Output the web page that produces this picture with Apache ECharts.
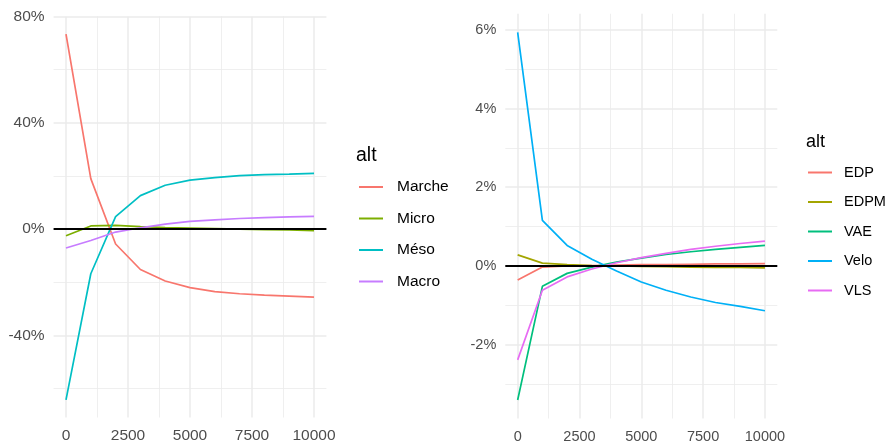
<!DOCTYPE html>
<html>
<head>
<meta charset="utf-8">
<script src="https://cdn.jsdelivr.net/npm/echarts@6/dist/echarts.min.js"></script>
<style>html,body{margin:0;padding:0;background:#fff;}#c{width:888px;height:444px;}</style>
</head>
<body>
<div id="c"></div>
<script>
// ---- data ----
const xValues = [0, 1000, 2000, 3000, 4000, 5000, 6000, 7000, 8000, 9000, 10000];

const leftNames = ['Marche', 'Micro', 'Méso', 'Macro'];
const marche = [73.3, 19.0, -5.6, -15.2, -19.5, -22.0, -23.5, -24.3, -24.8, -25.2, -25.6];
const micro  = [-2.5, 1.2, 1.4, 0.9, 0.6, 0.4, 0.2, 0.0, -0.2, -0.3, -0.6];
const meso   = [-64.2, -16.8, 4.7, 12.6, 16.5, 18.4, 19.4, 20.1, 20.5, 20.7, 21.0];
const macro  = [-7.1, -4.3, -1.1, 0.5, 1.9, 2.9, 3.5, 4.0, 4.3, 4.6, 4.8];

const rightNames = ['EDP', 'EDPM', 'VAE', 'Velo', 'VLS'];
const edp  = [-0.36, -0.03, 0.0, 0.01, 0.02, 0.03, 0.03, 0.04, 0.05, 0.05, 0.06];
const edpm = [0.28, 0.07, 0.03, 0.01, 0.0, -0.01, -0.02, -0.03, -0.04, -0.04, -0.05];
const vae  = [-3.41, -0.52, -0.19, -0.03, 0.10, 0.20, 0.29, 0.36, 0.42, 0.47, 0.52];
const velo = [5.94, 1.16, 0.52, 0.17, -0.13, -0.41, -0.62, -0.79, -0.93, -1.03, -1.14];
const vls  = [-2.39, -0.62, -0.28, -0.08, 0.08, 0.21, 0.32, 0.42, 0.50, 0.57, 0.63];

const xMajor = [0, 2500, 5000, 7500, 10000];
const xMinor = [1250, 3750, 6250, 8750];
const leftYMajor = [-40, 0, 40, 80];
const leftYMinor = [-60, -20, 20, 60];
const rightYMajor = [-2, 0, 2, 4, 6];
const rightYMinor = [-3, -1, 1, 3, 5];

const leftColors = ['#F8766D', '#7CAE00', '#00BFC4', '#C77CFF'];
const rightColors = ['#F8766D', '#A3A500', '#00BF7D', '#00B0F6', '#E76BF3'];

// ---- chart ----
const FONT = 'Liberation Sans, Arial, Helvetica, sans-serif';
const GRID = '#EBEBEB';

function pairs(arr) { return xValues.map((x, i) => [x, arr[i]]); }

function majorX(gridIndex, fs) {
  return {
    type: 'value', gridIndex, min: -500, max: 10500,
    axisLine: {show: false},
    axisTick: {show: false, customValues: xMajor},
    axisLabel: {customValues: xMajor, color: '#4D4D4D', fontSize: fs, fontFamily: FONT, margin: 10.5,
      formatter: v => String(v)},
    splitLine: {show: true, lineStyle: {color: GRID, width: 1.5}}
  };
}
function minorX(gridIndex) {
  return {
    type: 'value', gridIndex, min: -500, max: 10500,
    axisLine: {show: false},
    axisTick: {show: false, customValues: xMinor},
    axisLabel: {show: false, customValues: xMinor},
    splitLine: {show: true, lineStyle: {color: GRID, width: 0.8}}
  };
}
function majorY(gridIndex, min, max, vals, fs) {
  return {
    type: 'value', gridIndex, min, max,
    axisLine: {show: false},
    axisTick: {show: false, customValues: vals},
    axisLabel: {customValues: vals, color: '#4D4D4D', fontSize: fs, fontFamily: FONT, margin: 9,
      formatter: v => v + '%'},
    splitLine: {show: true, lineStyle: {color: GRID, width: 1.5}}
  };
}
function minorY(gridIndex, min, max, vals) {
  return {
    type: 'value', gridIndex, min, max,
    axisLine: {show: false},
    axisTick: {show: false, customValues: vals},
    axisLabel: {show: false, customValues: vals},
    splitLine: {show: true, lineStyle: {color: GRID, width: 0.8}}
  };
}

const zeroLine = {
  silent: true, symbol: 'none', animation: false,
  label: {show: false},
  lineStyle: {color: '#000', width: 1.8, type: 'solid'},
  data: [{yAxis: 0}]
};

function lineSeries(name, arr, color, xi, yi, withZero) {
  const s = {
    type: 'line', name, data: pairs(arr), xAxisIndex: xi, yAxisIndex: yi,
    showSymbol: false, symbol: 'none', color,
    lineStyle: {color, width: 1.7}, z: 2
  };
  if (withZero) s.markLine = zeroLine;
  return s;
}

const leftArrays = [marche, micro, meso, macro];
const rightArrays = [edp, edpm, vae, velo, vls];

const series = [];
leftNames.forEach((n, i) => series.push(lineSeries(n, leftArrays[i], leftColors[i], 0, 0, i === leftNames.length - 1)));
rightNames.forEach((n, i) => series.push(lineSeries(n, rightArrays[i], rightColors[i], 2, 2, i === rightNames.length - 1)));

const option = {
  animation: false,
  backgroundColor: '#fff',
  title: [
    {text: 'alt', left: 356, top: 145.5, padding: 0, textStyle: {fontSize: 19.5, fontWeight: 'normal', color: '#000', fontFamily: FONT}},
    {text: 'alt', left: 806, top: 133, padding: 0, textStyle: {fontSize: 18, fontWeight: 'normal', color: '#000', fontFamily: FONT}}
  ],
  grid: [
    {left: 53.6, top: 16.4, width: 272.8, height: 404.7},
    {left: 505.3, top: 13.8, width: 272, height: 406}
  ],
  xAxis: [majorX(0, 15.5), minorX(0), majorX(1, 14.5), minorX(1)],
  yAxis: [
    majorY(0, -70.85, 80, leftYMajor, 15.5), minorY(0, -70.85, 80, leftYMinor),
    majorY(1, -3.88, 6.41, rightYMajor, 14.5), minorY(1, -3.88, 6.41, rightYMinor)
  ],
  legend: [
    {
      data: leftNames, orient: 'vertical', left: 359, top: 179, padding: 0,
      itemWidth: 24, itemHeight: 2, icon: 'rect', itemGap: 15.5,
      selectedMode: false,
      textStyle: {fontSize: 15.5, color: '#000', fontFamily: FONT, padding: [0, 0, 0, 9]}
    },
    {
      data: rightNames, orient: 'vertical', left: 808, top: 165, padding: 0,
      itemWidth: 24, itemHeight: 2, icon: 'rect', itemGap: 14.5,
      selectedMode: false,
      textStyle: {fontSize: 14.5, color: '#000', fontFamily: FONT, padding: [0, 0, 0, 7]}
    }
  ],
  series
};

const chart = echarts.init(document.getElementById('c'), null, {renderer: 'canvas'});
chart.setOption(option);
</script>
</body>
</html>
